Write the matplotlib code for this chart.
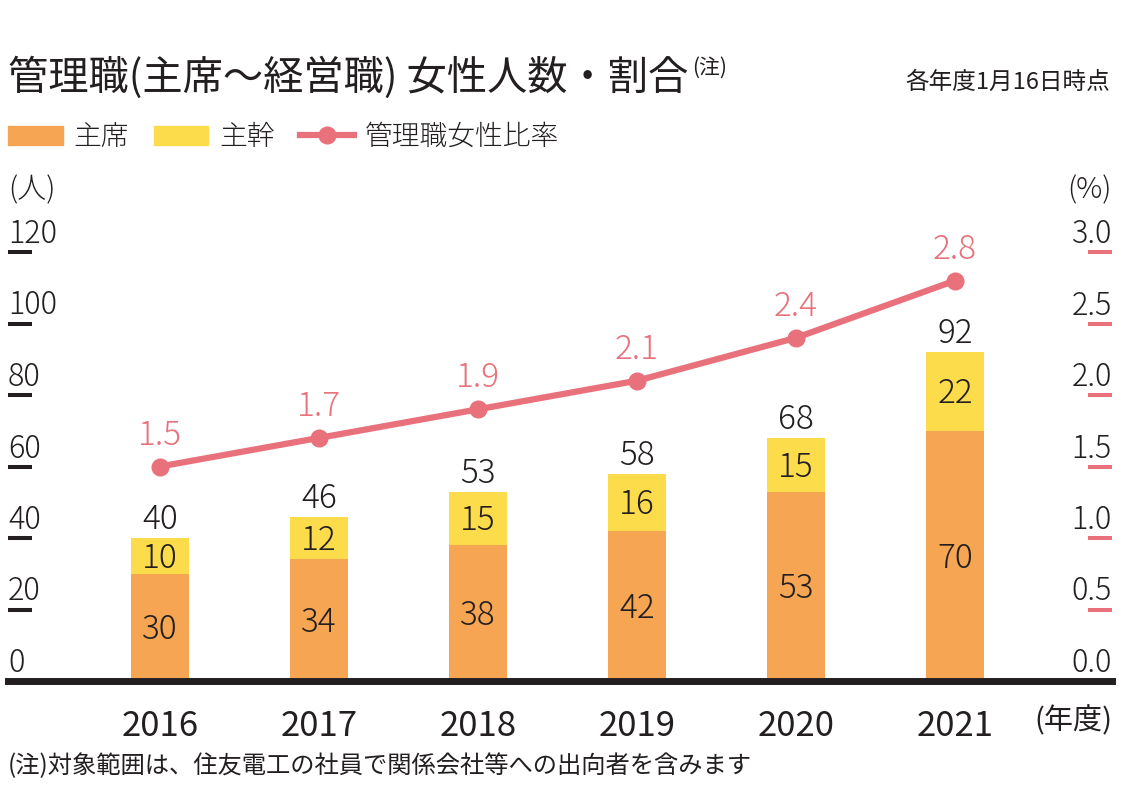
import matplotlib
matplotlib.use('Agg')
import matplotlib.pyplot as plt
from matplotlib.lines import Line2D
from matplotlib.patches import Patch

plt.rcParams['font.family'] = ['Noto Sans CJK JP', 'DejaVu Sans']

# data
years = ['2016', '2017', '2018', '2019', '2020', '2021']
shuseki = [30, 34, 38, 42, 53, 70]      # 主席
shukan = [10, 12, 15, 16, 15, 22]       # 主幹
totals = [40, 46, 53, 58, 68, 92]
ratio = [1.5, 1.7, 1.9, 2.1, 2.4, 2.8]  # 管理職女性比率 (%)
left_ticks = [0, 20, 40, 60, 80, 100, 120]
right_ticks = [0.0, 0.5, 1.0, 1.5, 2.0, 2.5, 3.0]

DARK = '#231f20'
ORANGE = '#f6a552'
YELLOW = '#fddc4c'
PINK = '#e9717b'
LIGHT = 'light'

W, H = 1131, 802
fig = plt.figure(figsize=(W / 100, H / 100), dpi=100)
ax = fig.add_axes([8 / W, 121 / H, 1104 / W, 429 / H])
ax2 = ax.twinx()

x = list(range(len(years)))
ax.bar(x, shuseki, width=0.36, color=ORANGE, zorder=2)
ax.bar(x, shukan, width=0.36, bottom=shuseki, color=YELLOW, zorder=2)

ax.set_xlim(-0.956, 5.987)
ax.set_ylim(0, 120)
ax2.set_ylim(0, 3)

for s in ['top', 'left', 'right']:
    ax.spines[s].set_visible(False)
    ax2.spines[s].set_visible(False)
ax2.spines['bottom'].set_visible(False)
ax.spines['bottom'].set_linewidth(5)
ax.spines['bottom'].set_color(DARK)
ax.spines['bottom'].set_zorder(5)

# left axis: short dashes inside, labels above them
ax.set_yticks(left_ticks[1:])
ax.tick_params(axis='y', direction='in', length=17.3, width=2.9,
               color=DARK, labelleft=False)
for v in left_ticks:
    ax.annotate(str(v), (0, v), xycoords=('axes fraction', 'data'),
                xytext=(0, 9), textcoords='offset pixels',
                ha='left', va='baseline', fontsize=22, color=DARK,
                fontweight=LIGHT)

ax2.set_yticks(right_ticks[1:])
ax2.tick_params(axis='y', direction='in', length=17.3, width=2.9,
                color=PINK, labelright=False, right=True)
for v in right_ticks:
    ax2.annotate('%.1f' % v, (1, v), xycoords=('axes fraction', 'data'),
                 xytext=(0, 9), textcoords='offset pixels',
                 ha='right', va='baseline', fontsize=22, color=DARK,
                 fontweight=LIGHT)

ax.set_xticks(x, years)
ax.tick_params(axis='x', length=0, pad=20, labelsize=25, labelcolor=DARK)

# bar labels
for i in x:
    ax.annotate(str(shuseki[i]), (i, shuseki[i] / 2),
                xytext=(0, -12), textcoords='offset pixels',
                ha='center', va='baseline', fontsize=24, color=DARK,
                fontweight=LIGHT, zorder=3)
    ax.annotate(str(shukan[i]), (i, shuseki[i] + shukan[i] / 2),
                xytext=(0, -12), textcoords='offset pixels',
                ha='center', va='baseline', fontsize=24, color=DARK,
                fontweight=LIGHT, zorder=3)
    ax.annotate(str(totals[i]), (i, totals[i]),
                xytext=(0, 9), textcoords='offset pixels',
                ha='center', va='baseline', fontsize=24, color=DARK,
                fontweight=LIGHT)

# ratio line
ax2.plot(x, ratio, color=PINK, lw=4.5, marker='o', ms=12, zorder=4,
         solid_capstyle='butt')
for i in x:
    ax2.annotate('%.1f' % ratio[i], (i, ratio[i]),
                 xytext=(0, 22), textcoords='offset pixels',
                 ha='center', va='baseline', fontsize=24, color=PINK,
                 fontweight=LIGHT)

# unit labels
ax.annotate('(人)', (0, 1), xycoords='axes fraction', xytext=(0, 62),
            textcoords='offset pixels', ha='left', va='center',
            fontsize=21, color=DARK, fontweight=LIGHT)
ax2.annotate('(%)', (1, 1), xycoords='axes fraction', xytext=(0, 62),
             textcoords='offset pixels', ha='right', va='center',
             fontsize=21, color=DARK, fontweight=LIGHT)
ax.annotate('(年度)', (1, 0), xycoords='axes fraction', xytext=(0, -40),
            textcoords='offset pixels', ha='right', va='center',
            fontsize=21, color=DARK)

# title, note, legend
fig.text(8 / W, 1 - 78 / H, '管理職(主席〜経営職) 女性人数・割合',
         ha='left', va='center', fontsize=29, color=DARK)
fig.text(692 / W, 1 - 68 / H, '(注)', ha='left', va='center',
         fontsize=15, color=DARK)
fig.text(1110 / W, 1 - 82 / H, '各年度1月16日時点', ha='right', va='center',
         fontsize=17, color=DARK)
fig.text(8 / W, 1 - 766 / H,
         '(注)対象範囲は、住友電工の社員で関係会社等への出向者を含みます',
         ha='left', va='center', fontsize=17.5, color=DARK)

handles = [Patch(color=ORANGE, label='主席'),
           Patch(color=YELLOW, label='主幹'),
           Line2D([], [], color=PINK, lw=4.5, marker='o', ms=12,
                  label='管理職女性比率')]
leg = fig.legend(handles=handles, loc='center left',
                 bbox_to_anchor=(0 / W, 1 - 137 / H), ncol=3, frameon=False,
                 fontsize=20, handlelength=1.95, handleheight=0.65,
                 handletextpad=0.4, columnspacing=0.9, borderpad=0,
                 borderaxespad=0.3, labelcolor=DARK)
for t in leg.get_texts():
    t.set_fontweight(LIGHT)

fig.savefig('out.png', dpi=100)
